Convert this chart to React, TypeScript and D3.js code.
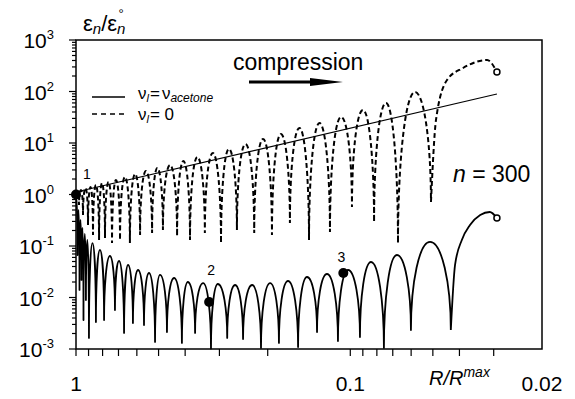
import React from 'react';
import * as d3 from 'd3';

const W = 575;
const H = 399;
const M = { top: 40, right: 33, bottom: 50, left: 76 };
const FONT = "'Liberation Sans', Arial, sans-serif";

// axis labels
const xLabelValues = [1, 0.1, 0.02];
const xLabelTexts = ['1', '0.1', '0.02'];
const yExponents = [-3, -2, -1, 0, 1, 2, 3];

// solid curve: nu_l = nu_acetone (start, dips, peaks between dips, tail)
const solidStart = [1, 1];
const solidDipR = [0.9875, 0.971, 0.955, 0.939, 0.92, 0.897, 0.846, 0.79, 0.721, 0.668, 0.62, 0.565, 0.515, 0.466,
  0.411, 0.368, 0.322, 0.281, 0.246, 0.2116, 0.182, 0.155, 0.1322, 0.1109, 0.0922, 0.0754, 0.0601, 0.043];
const solidDipV = [0.0668, 0.014, 0.0219, 0.00366, 0.00894, 0.00164, 0.00334, 0.00366, 0.00572, 0.00205, 0.0032,
  0.00292, 0.00137, 0.00214, 0.00131, 0.00205, 0.00102, 0.00164, 0.00156, 0.00105, 0.00131, 0.00109, 0.00214,
  0.00143, 0.00171, 0.00105, 0.00234, 0.00234];
const solidPeakR = [0.979, 0.963, 0.947, 0.929, 0.909, 0.871, 0.818, 0.752, 0.697, 0.646, 0.594, 0.542, 0.494, 0.439,
  0.391, 0.344, 0.304, 0.263, 0.228, 0.196, 0.1687, 0.1438, 0.1216, 0.1019, 0.084, 0.0676, 0.0512];
const solidPeakV = [0.5, 0.32, 0.224, 0.171, 0.131, 0.114, 0.0836, 0.0639, 0.0511, 0.0428, 0.0342, 0.0299, 0.0274,
  0.0239, 0.02, 0.0191, 0.0183, 0.0175, 0.0175, 0.0191, 0.0209, 0.025, 0.0286, 0.0342, 0.0489, 0.0668, 0.12];
const solidTailR = [0.0415, 0.0392, 0.0366, 0.0336, 0.031, 0.0292];
const solidTailV = [0.0428, 0.131, 0.256, 0.4, 0.457, 0.35];

// dashed curve: nu_l = 0
const dashStart = [1, 1];
const dashDipR = [0.975, 0.943, 0.904, 0.867, 0.824, 0.784, 0.739, 0.691, 0.636, 0.584, 0.528, 0.482, 0.428, 0.384,
  0.339, 0.296, 0.259, 0.224, 0.193, 0.166, 0.1414, 0.1186, 0.0986, 0.0819, 0.067, 0.0508];
const dashDipV = [0.625, 0.4, 0.256, 0.164, 0.131, 0.143, 0.114, 0.131, 0.114, 0.164, 0.179, 0.205, 0.156, 0.131,
  0.179, 0.114, 0.205, 0.179, 0.164, 0.28, 0.131, 0.187, 0.572, 0.292, 0.114, 0.715];
const dashPeakR = [0.959, 0.923, 0.885, 0.846, 0.804, 0.761, 0.715, 0.663, 0.609, 0.556, 0.505, 0.454, 0.406, 0.361,
  0.317, 0.277, 0.241, 0.208, 0.179, 0.1532, 0.1295, 0.108, 0.0899, 0.0741, 0.0581];
const dashPeakV = [1.22, 1.34, 1.4, 1.53, 1.67, 1.75, 1.91, 2.19, 2.5, 2.86, 3.27, 3.74, 4.47, 5.35, 6.39, 7.65, 9.56,
  12.0, 14.9, 19.6, 24.4, 32.0, 43.7, 59.8, 97.7];
const dashTailR = [0.0487, 0.0444, 0.0388, 0.0317, 0.0292];
const dashTailV = [28.0, 167, 286, 409, 239];

// straight trend line
const trendR = [1, 0.0292];
const trendV = [1.12, 89.4];

// numbered points
const markerR = [1, 0.327, 0.106];
const markerV = [1, 0.0082, 0.03];
const markerText = ['1', '2', '3'];

const x = d3.scaleLog().domain([1, 0.02]).range([M.left, W - M.right]);
const y = d3.scaleLog().domain([1e-3, 1e3]).range([H - M.bottom, M.top]);

type Pt = { r: number; v: number; dip: boolean };

function sequence(start: number[], dipR: number[], dipV: number[], peakR: number[], peakV: number[]): Pt[] {
  const out: Pt[] = [{ r: start[0], v: start[1], dip: false }];
  dipR.forEach((r, i) => {
    out.push({ r, v: dipV[i], dip: true });
    if (i < peakR.length) out.push({ r: peakR[i], v: peakV[i], dip: false });
  });
  return out;
}

// arches: flat at the peaks, vertical into the dips
function lobePath(pts: Pt[], tailR: number[], tailV: number[]) {
  const K = 0.55;
  const p = d3.path();
  pts.forEach((pt, i) => {
    const px = x(pt.r), py = y(pt.v);
    if (i === 0) { p.moveTo(px, py); return; }
    const a = pts[i - 1];
    const ax = x(a.r), ay = y(a.v);
    if (pt.dip) p.bezierCurveTo(ax + K * (px - ax), ay, px, py - K * (py - ay), px, py);
    else p.bezierCurveTo(ax, ay + K * (py - ay), px - K * (px - ax), py, px, py);
  });
  const last = pts[pts.length - 1];
  const tail: [number, number][] = [[last.r, last.v], ...tailR.map((r, i) => [r, tailV[i]] as [number, number])];
  const line = d3.line<[number, number]>().x(d => x(d[0])).y(d => y(d[1])).curve(d3.curveMonotoneX);
  return p.toString() + (line(tail) || '');
}

const isDecade = (v: number) => Math.abs(Math.log10(v) - Math.round(Math.log10(v))) < 1e-6;

export default function App() {
  const solidD = lobePath(sequence(solidStart, solidDipR, solidDipV, solidPeakR, solidPeakV), solidTailR, solidTailV);
  const dashD = lobePath(sequence(dashStart, dashDipR, dashDipV, dashPeakR, dashPeakV), dashTailR, dashTailV);
  const trendLine = d3.line<number>().x(r => x(r)).y((r, i) => y(trendV[i]))(trendR) || '';
  const x0 = M.left, x1 = W - M.right, y0 = M.top, y1 = H - M.bottom;
  const xTicks = x.ticks().filter(v => v > 0.025);
  const yTicks = y.ticks();
  const labelOff = [[11, -16], [2, -27], [-2, -11]];

  return (
    <svg width={W} height={H} fontFamily={FONT}
      style={{ position: 'absolute', left: 0, top: 0, background: '#fff' }}>
      {/* frame */}
      <rect x={x0} y={y0} width={x1 - x0} height={y1 - y0} fill="none" stroke="#000" strokeWidth={1.5} />

      {/* y ticks */}
      {yTicks.map((v, i) => (
        <line key={'yt' + i} x1={x0 - (isDecade(v) ? 7 : 4)} x2={x0} y1={y(v)} y2={y(v)} stroke="#000" strokeWidth={1.2} />
      ))}
      {yExponents.map(e => (
        <text key={'yl' + e} x={54} y={y(Math.pow(10, e)) + 8} textAnchor="end" fontSize={21}>
          10<tspan fontSize={13} dy={-9}>{String(e)}</tspan>
        </text>
      ))}

      {/* x ticks */}
      {xTicks.map((v, i) => (
        <line key={'xt' + i} x1={x(v)} x2={x(v)} y1={y1} y2={y1 + 7} stroke="#000" strokeWidth={1.2} />
      ))}
      {xLabelValues.map((v, i) => (
        <text key={'xl' + i} x={x(v)} y={391} textAnchor="middle" fontSize={21}>{xLabelTexts[i]}</text>
      ))}
      <text x={429} y={385} fontSize={20} fontStyle="italic">R/R<tspan fontSize={14} dy={-8}>max</tspan></text>

      {/* y title */}
      <text x={83} y={31} fontSize={22}>
        ε<tspan fontSize={15} fontStyle="italic" dy={3}>n</tspan>
        <tspan dy={-3}>/ε</tspan>
        <tspan fontSize={15} fontStyle="italic" dy={3}>n</tspan>
        <tspan fontSize={13} dx={-7} dy={-16}>°</tspan>
      </text>

      {/* curves */}
      <path d={dashD} fill="none" stroke="#000" strokeWidth={2} strokeDasharray="5,3" />
      <path d={solidD} fill="none" stroke="#000" strokeWidth={1.8} strokeLinejoin="round" />
      <path d={trendLine} fill="none" stroke="#000" strokeWidth={1.2} />

      {/* numbered points */}
      {markerR.map((r, i) => (
        <g key={'m' + i}>
          <circle cx={x(r)} cy={y(markerV[i])} r={5} fill="#000" />
          <text x={x(r) + labelOff[i][0]} y={y(markerV[i]) + labelOff[i][1]} textAnchor="middle" fontSize={14}>
            {markerText[i]}
          </text>
        </g>
      ))}

      {/* open end circles */}
      <circle cx={x(solidTailR[solidTailR.length - 1])} cy={y(solidTailV[solidTailV.length - 1])} r={3}
        fill="#fff" stroke="#000" strokeWidth={1.5} />
      <circle cx={x(dashTailR[dashTailR.length - 1])} cy={y(dashTailV[dashTailV.length - 1])} r={3}
        fill="#fff" stroke="#000" strokeWidth={1.5} />

      {/* legend */}
      <line x1={92} x2={125} y1={97} y2={97} stroke="#000" strokeWidth={1.5} />
      <line x1={92} x2={125} y1={114} y2={114} stroke="#000" strokeWidth={1.5} strokeDasharray="5,4" />
      <text x={138} y={99} fontSize={17}>
        ν<tspan fontSize={11} fontStyle="italic" dy={3}>l</tspan>
        <tspan dx={1} dy={-3}>=</tspan>
        <tspan dx={2}>ν</tspan>
        <tspan fontSize={12} fontStyle="italic" dy={3}>acetone</tspan>
      </text>
      <text x={138} y={120} fontSize={17}>
        ν<tspan fontSize={11} fontStyle="italic" dy={3}>l</tspan>
        <tspan dx={1} dy={-3}>= 0</tspan>
      </text>

      {/* annotations */}
      <text x={233} y={70} fontSize={23}>compression</text>
      <line x1={249} x2={314} y1={82} y2={82} stroke="#000" strokeWidth={3} />
      <polygon points="310,78 343,82 310,86" fill="#000" />
      <text x={453} y={182} fontSize={23}><tspan fontStyle="italic">n</tspan> = 300</text>
    </svg>
  );
}
